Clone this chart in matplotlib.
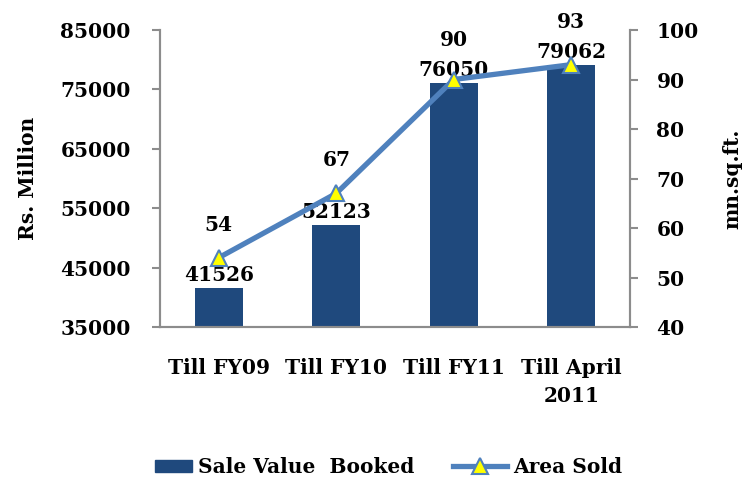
import numpy as np
import matplotlib
matplotlib.use('Agg')
import matplotlib.pyplot as plt
from matplotlib.lines import Line2D
from matplotlib.patches import Patch, Rectangle
from matplotlib.legend_handler import HandlerPatch

categories = ['Till FY09', 'Till FY10', 'Till FY11', 'Till April\n2011']
sale_value = [41526, 52123, 76050, 79062]
area_sold = [54, 67, 90, 93]

# label offsets (pixels) above the line markers, as placed in the original
area_label_dy = [33, 33, 40, 43]

bar_color = '#1F497D'
line_color = '#4F81BD'
grey = '#8C8C8C'
fs = 14.5

plt.rcParams['font.family'] = ['DejaVu Serif']
plt.rcParams['font.weight'] = 'bold'

fig = plt.figure(figsize=(7.49, 4.79), dpi=100)
ax = fig.add_axes([160 / 749, 1 - 327 / 479, 470 / 749, 297 / 479])
ax2 = ax.twinx()

x = np.arange(len(categories))
ax.bar(x, sale_value, width=0.41, color=bar_color, zorder=2)
ax.set_xlim(-0.5, len(categories) - 0.5)
ax.set_ylim(35000, 85000)
ax.set_yticks(np.arange(35000, 85001, 10000))
ax.set_xticks(x)
ax.set_xticklabels(categories, fontsize=fs, fontweight='bold', linespacing=1.5)

ax2.plot(x, area_sold, color=line_color, lw=3.8, marker='^', markersize=12,
         markerfacecolor='#FFFF00', markeredgecolor=line_color, markeredgewidth=1.5, zorder=3)
ax2.set_ylim(40, 100)
ax2.set_yticks(np.arange(40, 101, 10))

for xi, v in zip(x, sale_value):
    ax.annotate(f'{v}', (xi, v), xytext=(0, 3), textcoords='offset pixels',
                ha='center', va='bottom', fontsize=fs, fontweight='bold', zorder=5)
for xi, v, dy in zip(x, area_sold, area_label_dy):
    ax2.annotate(f'{v}', (xi, v), xytext=(0, dy), textcoords='offset pixels',
                 ha='center', va='center', fontsize=fs, fontweight='bold')

for a in (ax, ax2):
    a.spines['top'].set_visible(False)
    for s in ('left', 'right', 'bottom'):
        a.spines[s].set_color(grey)
        a.spines[s].set_linewidth(1.5)
    a.tick_params(axis='both', colors=grey, width=1.5, length=6, labelsize=fs)
    for lab in a.get_yticklabels() + a.get_xticklabels():
        lab.set_color('black')
        lab.set_fontweight('bold')
ax.tick_params(axis='x', length=0, pad=22)
ax.tick_params(axis='y', pad=15)
ax2.tick_params(axis='y', pad=13)

ax.set_ylabel('Rs. Million', fontsize=fs, fontweight='bold', labelpad=16)
ax2.set_ylabel('mn.sq.ft.', fontsize=fs, fontweight='bold', rotation=90, labelpad=17)


def small_rect(legend, orig_handle, xdescent, ydescent, width, height, fontsize):
    w = width * 0.68
    return Rectangle((width - w - xdescent, -ydescent + height * 0.1), w, height * 0.8)


handles = [Patch(color=bar_color),
           Line2D([0], [0], color=line_color, lw=3.8, marker='^', markersize=12,
                  markerfacecolor='#FFFF00', markeredgecolor=line_color, markeredgewidth=1.5)]
fig.legend(handles, ['Sale Value  Booked', 'Area Sold'], loc='center',
           bbox_to_anchor=(380 / 749, 1 - 467 / 479), ncol=2, frameon=False,
           fontsize=fs, handlelength=2.7, columnspacing=1.9, handletextpad=0.3,
           handler_map={Patch: HandlerPatch(patch_func=small_rect)})

fig.savefig('out.png', dpi=100)
